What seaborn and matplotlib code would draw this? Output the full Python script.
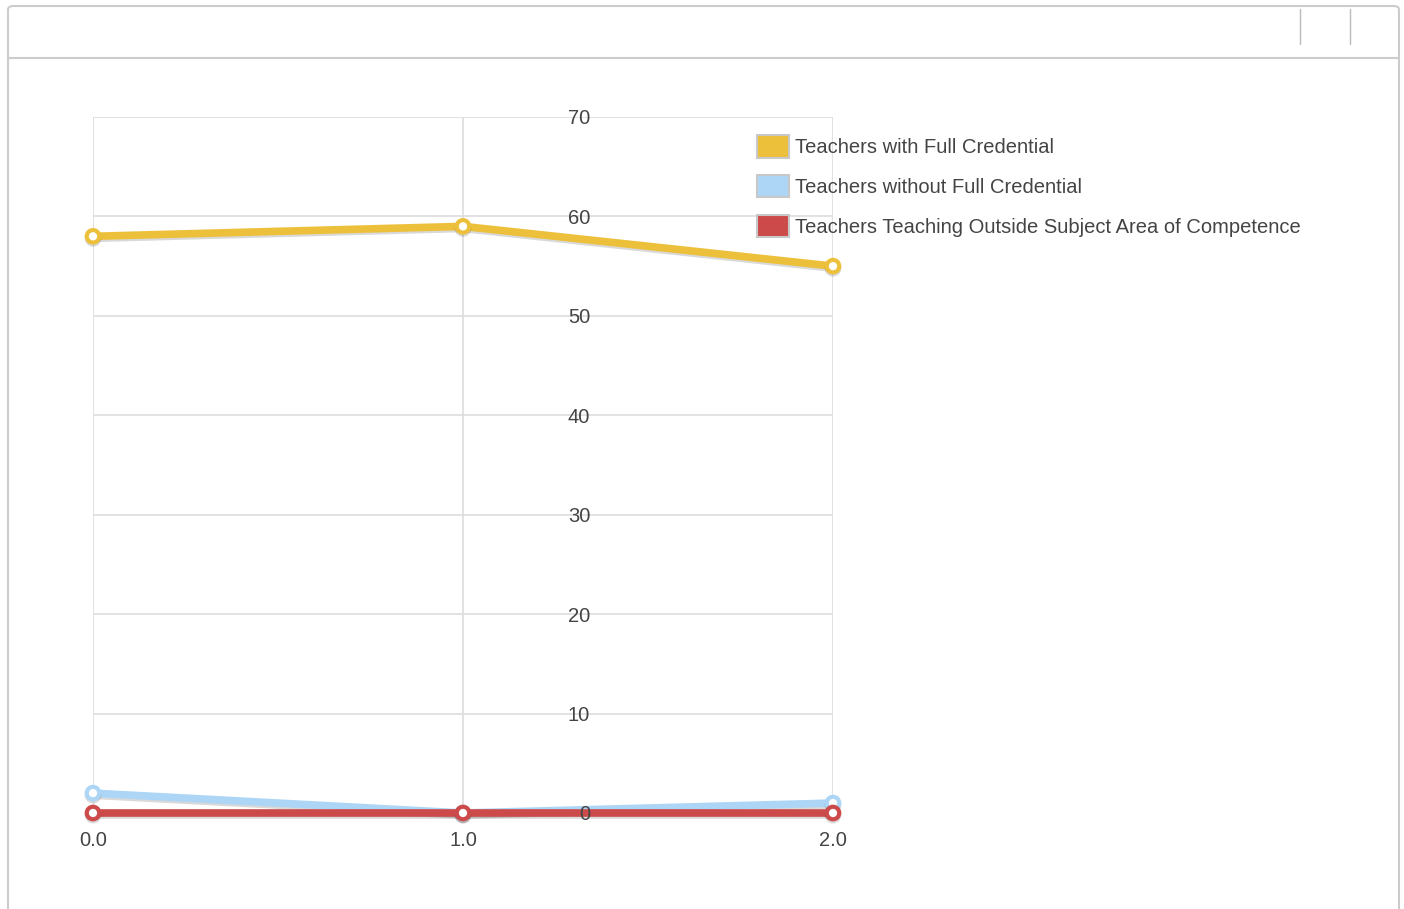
import pandas as pd
import matplotlib.pyplot as plt
import matplotlib.patheffects as pe
from matplotlib.patches import FancyBboxPatch, Patch
from matplotlib.lines import Line2D
import seaborn as sns

# Data
x_values = [0.0, 1.0, 2.0]
series_names = ['Teachers with Full Credential',
                'Teachers without Full Credential',
                'Teachers Teaching Outside Subject Area of Competence']
full_credential = [58, 59, 55]
without_credential = [2, 0, 1]
outside_subject = [0, 0, 0]
series_colors = ['#EDC03C', '#ADD6F6', '#CD4A4A']
y_ticks = [0, 10, 20, 30, 40, 50, 60, 70]
x_tick_labels = ['0.0', '1.0', '2.0']

df = pd.DataFrame({
    'x': x_values * 3,
    'value': full_credential + without_credential + outside_subject,
    'series': [s for s in series_names for _ in x_values],
})

sns.set_style('white')
plt.rcParams['font.family'] = ['Liberation Sans', 'DejaVu Sans']

fig = plt.figure(figsize=(14.04, 9.09), dpi=100)
ax = fig.add_axes([93 / 1404, 1 - 813 / 909, 740 / 1404, 696 / 909])

# Panel frame around the chart
frame = FancyBboxPatch((8 / 1404, -0.05), 1391 / 1404, 1 - 6 / 909 + 0.05,
                       boxstyle='round,pad=0,rounding_size=0.004',
                       transform=fig.transFigure, facecolor='none',
                       edgecolor='#cccccc', linewidth=1.5)
fig.patches.append(frame)
fig.add_artist(Line2D([8 / 1404, 1399 / 1404], [1 - 58 / 909] * 2,
                      transform=fig.transFigure, color='#cccccc', lw=1.5))
for xp in [1300, 1350]:
    fig.add_artist(Line2D([xp / 1404] * 2, [1 - 9 / 909, 1 - 44 / 909],
                          transform=fig.transFigure, color='#bbbbbb', lw=1))

# horizontal grid drawn below the data, vertical grid from the axis
ax.hlines(y_ticks, 0, 2, color='#dddddd', lw=1.2, zorder=1)
ax.grid(True, axis='x', color='#dddddd', lw=1.2)
ax.set_axisbelow(True)

shadow = [pe.SimpleLineShadow(offset=(0, -1.5), alpha=0.15), pe.Normal()]
for name, color in zip(series_names, series_colors):
    sub = df[df['series'] == name]
    sns.lineplot(data=sub, x='x', y='value', ax=ax, color=color, lw=5.5,
                 marker='o', markersize=9, markerfacecolor='white',
                 markeredgecolor=color, markeredgewidth=3,
                 clip_on=False, zorder=3, path_effects=shadow, legend=False)

ax.set_xlim(0, 2)
ax.set_ylim(0, 70)
ax.set_xticks(x_values)
ax.set_xticklabels(x_tick_labels)
ax.set_yticks(y_ticks)
ax.set_yticklabels([str(v) for v in y_ticks])
ax.set_xlabel('')
ax.set_ylabel('')
for s in ax.spines.values():
    s.set_visible(False)
ax.tick_params(axis='x', length=0, pad=13, labelsize=14.5, labelcolor='#444444')
ax.tick_params(axis='y', length=0, pad=-358, labelsize=14.5, labelcolor='#444444')
ax.yaxis.set_zorder(4)

handles = [Patch(facecolor=c, edgecolor='#c8c8c8', linewidth=1.5) for c in series_colors]
fig.legend(handles, series_names, loc='upper left',
           bbox_to_anchor=(739 / 1404, 1 - 117 / 909), frameon=False,
           fontsize=14.5, handlelength=1.6, handleheight=1.35, handletextpad=0.3,
           labelspacing=0.85, labelcolor='#444444')

fig.savefig('out.png', dpi=100)
